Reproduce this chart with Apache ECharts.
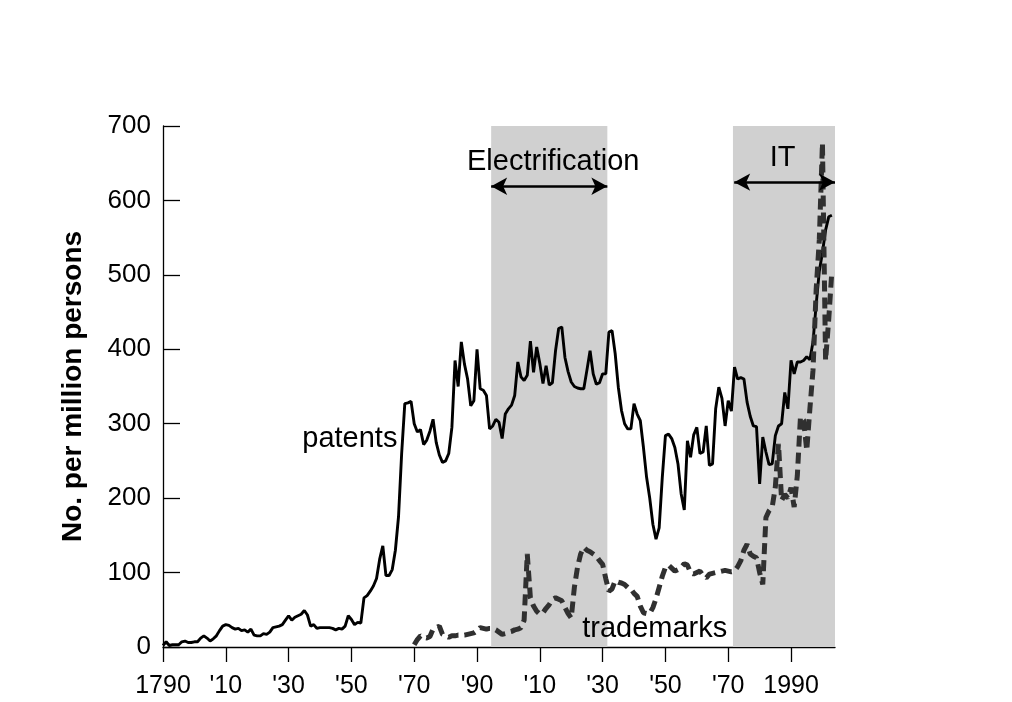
<!DOCTYPE html>
<html>
<head>
<meta charset="utf-8">
<script src="https://cdn.jsdelivr.net/npm/echarts@6/dist/echarts.min.js"></script>
<style>
html,body{margin:0;padding:0;background:#fff;}
#chart{width:1012px;height:702px;}
</style>
</head>
<body>
<div id="chart"></div>
<script>
// ---- data ----
const patentStart = 1790;
const patents = [
  2,7,2,3,3,3,7,8,6,6,
  7,7,12,15,12,8,11,15,22,28,
  30,29,26,24,25,22,23,20,24,16,
  15,15,18,17,20,26,27,28,30,36,
  42,36,40,42,44,49,43,28,30,25,
  26,26,26,26,25,23,25,24,28,42,
  37,30,33,32,66,69,75,82,92,118,
  136,96,96,104,130,175,260,327,328,330,
  300,289,292,272,278,290,306,275,258,248,
  250,260,295,385,350,410,380,360,324,331,
  400,347,345,338,293,297,306,302,280,313,
  320,325,338,383,363,358,365,411,369,403,
  381,354,378,352,355,398,428,430,389,370,
  356,350,348,347,347,372,398,367,353,355,
  367,367,423,425,394,349,318,300,293,293,
  327,313,304,268,228,200,165,145,160,228,
  284,286,280,268,246,206,184,277,255,285,
  295,260,262,297,244,246,320,349,334,297,
  331,317,376,360,362,360,329,310,297,296,
  219,282,262,245,246,284,297,300,342,320,
  385,367,383,383,385,390,386,410,460,505,
  530,560,578,580
];
const trademarkStart = 1870;
const trademarks = [
  3,10,15,13,12,14,24,26,28,17,
  15,13,15,15,16,16,16,17,18,19,
  22,26,25,24,25,25,23,20,17,18,
  20,21,23,24,26,36,125,66,55,48,
  44,46,52,57,64,66,64,62,53,45,
  39,80,107,125,134,130,128,125,122,116,
  111,92,75,78,89,87,86,84,80,78,
  72,68,55,46,45,45,53,65,80,95,
  107,110,106,102,104,107,112,110,100,98,
  100,102,96,93,98,99,100,101,102,103,
  102,101,102,108,116,130,138,125,122,120,
  100,84,174,183,188,215,273,197,205,200,
  214,188,230,309,305,264,320,372,480,547,
  677,385,440,505
];
const xTickValues = [1790,1810,1830,1850,1870,1890,1910,1930,1950,1970,1990];
const eras = [
  {name:'Electrification', from:1894.5, to:1931.5, arrowFrom:1894.5, arrowTo:1931.5, arrowY:619},
  {name:'IT', from:1971.5, to:2004, arrowFrom:1971.9, arrowTo:2004, arrowY:624.5}
];
const eraLabelShift = [4, -2];
const seriesLabels = [
  {name:'patents', year:1849.5, value:280},
  {name:'trademarks', year:1946.6, value:24}
];

// ---- build ----
const FONT = "'Liberation Sans', Arial, sans-serif";
const patentPairs = patents.map((v,i)=>[patentStart+i, v]);
const trademarkPairs = trademarks.map((v,i)=>[trademarkStart+i, v]);

const chart = echarts.init(document.getElementById('chart'), null, {renderer:'canvas'});
chart.setOption({
  animation:false,
  backgroundColor:'#ffffff',
  grid:{left:163, right:177, top:126, bottom:55, containLabel:false},
  xAxis:{
    type:'value', min:1790, max:2004,
    axisLine:{show:true, onZero:false, lineStyle:{color:'#000', width:1.3}},
    axisTick:{show:true, customValues:xTickValues, length:15, inside:false, lineStyle:{color:'#000', width:1.3}},
    axisLabel:{customValues:xTickValues, color:'#000', fontSize:25, fontFamily:FONT, margin:27,
      formatter:function(v){ return (v===1790||v===1990) ? String(v) : "'" + String(v).slice(2); }},
    splitLine:{show:false}
  },
  yAxis:{
    type:'value', min:0, max:700, interval:100,
    name:'No. per million persons', nameLocation:'middle', nameGap:76,
    nameTextStyle:{color:'#000', fontSize:28, fontWeight:'bold', fontFamily:FONT},
    axisLine:{show:true, lineStyle:{color:'#000', width:1.3}},
    axisTick:{show:true, inside:true, length:17, lineStyle:{color:'#000', width:1.3}},
    axisLabel:{color:'#000', fontSize:26, fontFamily:FONT, margin:12},
    splitLine:{show:false}
  },
  series:[
    {
      name:'patents', type:'line', data:patentPairs, showSymbol:false, symbol:'none', clip:false,
      lineStyle:{color:'#000', width:2.9}, z:3,
      markArea:{silent:true, itemStyle:{color:'#d0d0d0'},
        data: eras.map(e=>[{xAxis:e.from},{xAxis:e.to}])},
      markLine:{silent:true, symbol:['arrow','arrow'], symbolSize:[13,16], animation:false,
        lineStyle:{color:'#000', width:2.5, type:'solid'},
        label:{show:true, position:'middle', color:'#000', fontSize:29, fontFamily:FONT, distance:10},
        data: eras.map((e,i)=>[
          {coord:[e.arrowFrom, e.arrowY], label:{formatter:e.name, offset:[eraLabelShift[i],0]}},
          {coord:[e.arrowTo, e.arrowY]}
        ])},
      markPoint:{silent:true, symbol:'circle', symbolSize:1, itemStyle:{color:'rgba(0,0,0,0)'},
        label:{show:true, position:'inside', color:'#000', fontSize:29, fontFamily:FONT},
        data:[{coord:[seriesLabels[0].year, seriesLabels[0].value], label:{formatter:seriesLabels[0].name}}]}
    },
    {
      name:'trademarks', type:'line', data:trademarkPairs, showSymbol:false, symbol:'none', clip:false,
      lineStyle:{color:'#303030', width:5, type:[11,6]}, z:4,
      markPoint:{silent:true, symbol:'circle', symbolSize:1, itemStyle:{color:'rgba(0,0,0,0)'},
        label:{show:true, position:'inside', color:'#000', fontSize:29, fontFamily:FONT},
        data:[{coord:[seriesLabels[1].year, seriesLabels[1].value], label:{formatter:seriesLabels[1].name}}]}
    }
  ]
});
</script>
</body>
</html>
